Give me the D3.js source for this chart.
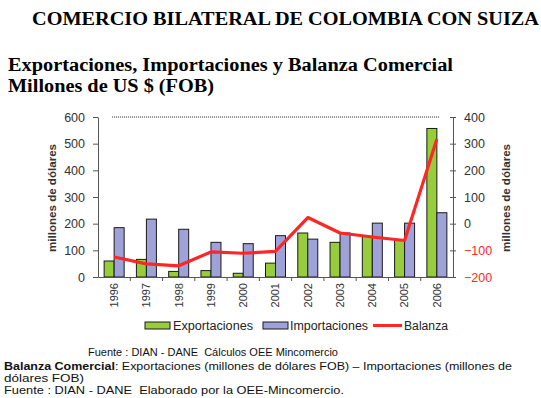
<!DOCTYPE html>
<html>
<head>
<meta charset="utf-8">
<script src="https://cdn.jsdelivr.net/npm/d3@7"></script>
<style>
  body { margin: 0; background: #fff; }
  svg { display: block; font-family: Arial, "Liberation Sans", sans-serif; }
</style>
</head>
<body>
<div class="chart"></div>
<script>
const width = 541;
const height = 398;

// data (millones de dólares FOB)
const years = ['1996','1997','1998','1999','2000','2001','2002','2003','2004','2005','2006'];
const exportaciones = [60, 66, 21, 24, 14, 52, 165, 130, 152, 140, 557];
const importaciones = [185, 217, 179, 130, 125, 155, 142, 165, 202, 202, 241];
const balanza = [-125, -151, -158, -106, -111, -104, 23, -35, -50, -63, 317];
const leftTicks = [0, 100, 200, 300, 400, 500, 600];
const rightTicks = [-200, -100, 0, 100, 200, 300, 400];

const plot = {left: 98, right: 453, top: 117, bottom: 277};

const svg = d3.select('.chart').append('svg')
  .attr('width', width)
  .attr('height', height);

const x = d3.scaleBand().domain(years).range([plot.left, plot.right]);
const bw = x.bandwidth();
const xSub = d3.scaleBand().domain(['exp', 'imp']).range([bw / 2 - 10, bw / 2 + 10]);
const yLeft = d3.scaleLinear().domain([0, 600]).range([plot.bottom, plot.top]);
const yRight = d3.scaleLinear().domain([-200, 400]).range([plot.bottom, plot.top]);

// titles
svg.append('text')
  .attr('x', 32).attr('y', 25)
  .attr('font-family', '"Liberation Serif", "Times New Roman", serif')
  .attr('font-weight', 'bold').attr('font-size', 18)
  .attr('textLength', 507).attr('lengthAdjust', 'spacingAndGlyphs')
  .text('COMERCIO BILATERAL DE COLOMBIA CON SUIZA');

svg.append('text')
  .attr('x', 8).attr('y', 71)
  .attr('font-family', '"Liberation Serif", "Times New Roman", serif')
  .attr('font-weight', 'bold').attr('font-size', 18)
  .attr('textLength', 445).attr('lengthAdjust', 'spacingAndGlyphs')
  .text('Exportaciones, Importaciones y Balanza Comercial');

svg.append('text')
  .attr('x', 8).attr('y', 92)
  .attr('font-family', '"Liberation Serif", "Times New Roman", serif')
  .attr('font-weight', 'bold').attr('font-size', 18)
  .attr('textLength', 206).attr('lengthAdjust', 'spacingAndGlyphs')
  .text('Millones de US $ (FOB)');

// dotted line along the top
svg.append('line')
  .attr('x1', x(years[0]) + bw / 2 - 2)
  .attr('x2', x(years[years.length - 1]) + bw / 2 + 3)
  .attr('y1', yLeft(600)).attr('y2', yLeft(600))
  .attr('stroke', '#222').attr('stroke-width', 1)
  .attr('stroke-dasharray', '1,1');

// bars
const groups = svg.selectAll('.year')
  .data(years)
  .enter().append('g')
  .attr('class', 'year')
  .attr('transform', d => `translate(${x(d)},0)`);

groups.append('rect')
  .attr('x', xSub('exp'))
  .attr('width', xSub.bandwidth())
  .attr('y', (d, i) => yLeft(exportaciones[i]))
  .attr('height', (d, i) => yLeft(0) - yLeft(exportaciones[i]))
  .attr('fill', '#97cc3a').attr('stroke', '#1a1a1a').attr('stroke-width', 1);

groups.append('rect')
  .attr('x', xSub('imp'))
  .attr('width', xSub.bandwidth())
  .attr('y', (d, i) => yLeft(importaciones[i]))
  .attr('height', (d, i) => yLeft(0) - yLeft(importaciones[i]))
  .attr('fill', '#9fa2d8').attr('stroke', '#1a1a1a').attr('stroke-width', 1);

// balanza line
const line = d3.line()
  .x((d, i) => x(years[i]) + bw / 2)
  .y(d => yRight(d));

svg.append('path')
  .datum(balanza)
  .attr('d', line)
  .attr('fill', 'none')
  .attr('stroke', '#ff2626')
  .attr('stroke-width', 3.2)
  .attr('stroke-linejoin', 'round');

// left axis
const leftAxis = svg.append('g')
  .attr('transform', `translate(${plot.left},0)`)
  .call(d3.axisLeft(yLeft).tickValues(leftTicks).tickSize(5).tickSizeOuter(0).tickPadding(8));
leftAxis.select('.domain').attr('stroke', '#555');
leftAxis.selectAll('.tick line').attr('stroke', '#555');
leftAxis.selectAll('text')
  .attr('font-size', 12.5).attr('fill', '#333')
  .attr('font-family', 'Arial, "Liberation Sans", sans-serif');

// right axis
const rightAxis = svg.append('g')
  .attr('transform', `translate(${plot.right},0)`)
  .call(d3.axisRight(yRight).tickValues(rightTicks).tickSize(3).tickSizeOuter(0).tickPadding(8));
rightAxis.select('.domain').attr('stroke', '#555');
rightAxis.selectAll('.tick line').attr('stroke', '#555').attr('x1', -3);
rightAxis.selectAll('text')
  .attr('font-size', 12.5)
  .attr('font-family', 'Arial, "Liberation Sans", sans-serif')
  .attr('fill', d => d < 0 ? '#ff2a2a' : '#333');

// bottom axis
const bottomAxis = svg.append('g')
  .attr('transform', `translate(0,${plot.bottom})`)
  .call(d3.axisBottom(x).tickSize(0).tickSizeOuter(0));
bottomAxis.select('.domain').attr('stroke', '#555');
bottomAxis.selectAll('text')
  .attr('font-size', 11).attr('fill', '#333')
  .attr('font-family', 'Arial, "Liberation Sans", sans-serif')
  .attr('text-anchor', 'end')
  .attr('transform', 'rotate(-90)')
  .attr('x', -6).attr('y', 0).attr('dy', '0.35em');

// tick marks between categories
svg.selectAll('.cat-tick')
  .data(years.slice(1))
  .enter().append('line')
  .attr('class', 'cat-tick')
  .attr('x1', d => x(d)).attr('x2', d => x(d))
  .attr('y1', plot.bottom).attr('y2', plot.bottom + 4)
  .attr('stroke', '#555');

// axis titles
svg.append('text')
  .attr('transform', `translate(52,${(plot.top + plot.bottom) / 2 + 1}) rotate(-90)`)
  .attr('text-anchor', 'middle').attr('dy', '0.35em')
  .attr('font-size', 11).attr('font-weight', 'bold').attr('fill', '#333')
  .attr('textLength', 108).attr('lengthAdjust', 'spacingAndGlyphs')
  .text('millones de dólares');

svg.append('text')
  .attr('transform', `translate(506,${(plot.top + plot.bottom) / 2 + 1}) rotate(-90)`)
  .attr('text-anchor', 'middle').attr('dy', '0.35em')
  .attr('font-size', 11).attr('font-weight', 'bold').attr('fill', '#333')
  .attr('textLength', 108).attr('lengthAdjust', 'spacingAndGlyphs')
  .text('millones de dólares');

// legend
const legend = svg.append('g').attr('class', 'legend');
legend.append('rect').attr('x', 145).attr('y', 322).attr('width', 25).attr('height', 7)
  .attr('fill', '#97cc3a').attr('stroke', '#1a1a1a');
legend.append('text').attr('x', 173).attr('y', 330)
  .attr('font-size', 12).attr('fill', '#222')
  .attr('textLength', 80).attr('lengthAdjust', 'spacingAndGlyphs')
  .text('Exportaciones');
legend.append('rect').attr('x', 263).attr('y', 322).attr('width', 25).attr('height', 7)
  .attr('fill', '#9fa2d8').attr('stroke', '#1a1a1a');
legend.append('text').attr('x', 290).attr('y', 330)
  .attr('font-size', 12).attr('fill', '#222')
  .attr('textLength', 78).attr('lengthAdjust', 'spacingAndGlyphs')
  .text('Importaciones');
legend.append('line').attr('x1', 373).attr('x2', 402).attr('y1', 325.5).attr('y2', 325.5)
  .attr('stroke', '#ff2626').attr('stroke-width', 3);
legend.append('text').attr('x', 404).attr('y', 330)
  .attr('font-size', 12).attr('fill', '#222')
  .attr('textLength', 44).attr('lengthAdjust', 'spacingAndGlyphs')
  .text('Balanza');

// footer notes (non-breaking space keeps the double gap)
const notes = svg.append('g').attr('font-size', 11).attr('fill', '#111');
notes.append('text').attr('x', 88).attr('y', 356)
  .attr('textLength', 250).attr('lengthAdjust', 'spacingAndGlyphs')
  .text('Fuente : DIAN - DANE \u00a0Cálculos OEE Mincomercio');
const n2 = notes.append('text').attr('x', 4).attr('y', 370)
  .attr('textLength', 508).attr('lengthAdjust', 'spacingAndGlyphs');
n2.append('tspan').attr('font-weight', 'bold').text('Balanza Comercial');
n2.append('tspan').text(': Exportaciones (millones de dólares FOB) – Importaciones (millones de');
notes.append('text').attr('x', 4).attr('y', 382)
  .attr('textLength', 80).attr('lengthAdjust', 'spacingAndGlyphs')
  .text('dólares FOB)');
notes.append('text').attr('x', 4).attr('y', 394)
  .attr('textLength', 340).attr('lengthAdjust', 'spacingAndGlyphs')
  .text('Fuente : DIAN - DANE \u00a0Elaborado por la OEE-Mincomercio.');
</script>
</body>
</html>
